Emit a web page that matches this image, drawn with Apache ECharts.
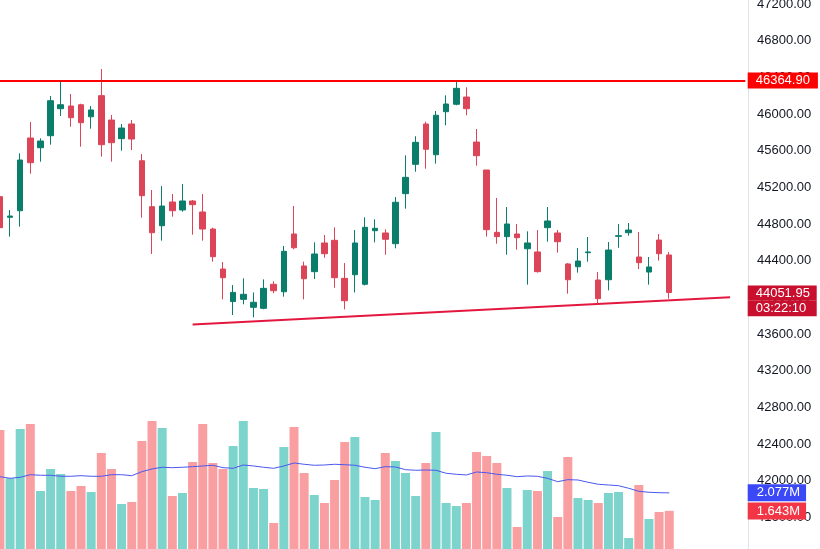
<!DOCTYPE html>
<html>
<head>
<meta charset="utf-8">
<script src="https://cdn.jsdelivr.net/npm/echarts@6/dist/echarts.min.js"></script>
<style>
  html, body { margin: 0; padding: 0; background: #ffffff; }
  #chart { width: 820px; height: 549px; }
</style>
</head>
<body>
<div id="chart"></div>
<script>
// ---- data ----
const opens  = [45098,44873,44945,45738,45632,45763,46058,46087,46101,45970,46200,45934,45731,45891,45490,44989,44781,45040,44953,45051,44931,44745,44309,43954,43978,43891,43880,44142,44061,44691,44342,44280,44593,44622,44207,44247,44142,44727,44702,44585,45131,45451,45891,45556,46025,46106,46185,45694,45389,44709,44662,44691,44530,44495,44760,44702,44364,44334,44487,44189,44192,44666,44705,44440,44276,44625,44462];
const closes = [44760,44887,45498,45469,45705,46145,46101,45960,45905,46044,45665,45687,45847,45727,45109,44705,44996,44945,45051,45011,44745,44443,44214,44054,44033,43946,44098,44072,44502,44541,44203,44473,44476,44214,43963,44593,44764,44753,44633,45037,45309,45691,45615,45986,46109,46280,46058,45545,44738,44662,44800,44651,44593,44280,44833,44607,44192,44396,44495,43985,44516,44672,44734,44378,44331,44476,44051.95];
const highs  = [45124,44953,45571,45913,45735,46196,46352,46218,46112,46087,46491,45989,45891,45934,45564,45171,45214,45127,45236,45062,45127,44760,44385,44134,44207,44054,44196,44175,44560,44996,44389,44600,44680,44764,44374,44734,44873,44851,44742,45094,45549,45757,45916,46033,46204,46349,46291,45836,45389,45084,44985,44800,44720,44734,44985,44734,44374,44538,44658,44276,44604,44800,44811,44713,44440,44691,44495];
const lows   = [44716,44662,44771,45349,45480,45665,45978,45861,45643,45840,45534,45480,45600,45607,44869,44473,44618,44880,44934,44683,44618,44389,43978,43807,43924,43782,43870,44044,44007,44524,43978,44200,44432,44105,43869,44054,44130,44600,44465,44535,44967,45370,45403,45458,45877,46095,45986,45436,44662,44585,44465,44520,44138,44270,44607,44487,44040,44269,44389,43927,44076,44541,44672,44309,44138,44400,43985];
// volume in millions
const volumes = [3.593,2.428,3.617,3.738,2.122,2.653,2.532,2.122,2.243,2.098,3.038,2.653,1.809,1.857,3.328,3.810,3.641,2.001,2.074,2.821,3.738,2.797,2.653,3.207,3.810,2.194,2.170,1.350,3.183,3.665,2.556,2.026,1.833,2.387,3.304,3.424,1.977,1.905,3.038,2.845,2.556,2.001,2.797,3.545,1.833,1.760,1.833,3.062,2.966,2.797,2.194,1.254,2.146,2.122,2.604,1.495,2.942,1.953,1.905,1.833,2.074,2.098,0.989,2.267,1.447,1.616,1.643];
const volumeMA = [2.467,2.428,2.452,2.515,2.501,2.501,2.477,2.477,2.491,2.477,2.477,2.515,2.515,2.491,2.587,2.653,2.694,2.684,2.694,2.708,2.725,2.742,2.684,2.669,2.749,2.725,2.694,2.669,2.725,2.797,2.766,2.742,2.749,2.766,2.756,2.742,2.694,2.660,2.708,2.701,2.636,2.621,2.628,2.621,2.549,2.525,2.508,2.580,2.563,2.525,2.501,2.467,2.484,2.477,2.428,2.346,2.395,2.387,2.332,2.284,2.267,2.250,2.187,2.115,2.091,2.081,2.077];
const resistance = 46364.90;
const lastPrice = 44051.95;
const countdown = '03:22:10';
const trendStart = [19, 43704];
const trendEnd = [72, 44000];
const slotCount = 74; // bars + empty space on the right
const categories = Array.from({ length: slotCount }, (_, i) => String(i));

// ---- styles ----
const UP = '#0a7d6b', DOWN = '#dc4458';
const UP_VOL = '#7dd4cc', DOWN_VOL = '#fa9fa1';
const FONT = "'Liberation Sans', Arial, sans-serif";
const HIDDEN_LINE = { width: 0, color: 'rgba(0,0,0,0)' };

const candleData = opens.map((o, i) => [o, closes[i], lows[i], highs[i]]);
const volData = volumes.map((v, i) => ({
  value: v,
  itemStyle: { color: closes[i] >= opens[i] ? UP_VOL : DOWN_VOL }
}));

const chart = echarts.init(document.getElementById('chart'), null, { renderer: 'canvas' });
const gridL = -5.17, gridR = 820 - 745.3;

chart.setOption({
  animation: false,
  backgroundColor: '#ffffff',
  textStyle: { fontFamily: FONT },
  grid: [
    { left: gridL, right: gridR, top: -32.67, bottom: -5.0, outerBoundsMode: 'none', containLabel: false },
    { left: gridL, right: gridR, top: 413.1, bottom: -30, outerBoundsMode: 'none', containLabel: false }
  ],
  xAxis: [
    { type: 'category', gridIndex: 0, data: categories, show: false, boundaryGap: true },
    { type: 'category', gridIndex: 1, data: categories, show: false, boundaryGap: true }
  ],
  yAxis: [
    {
      type: 'value', gridIndex: 0, position: 'right', offset: 2.7,
      min: 41200, max: 47600, interval: 400,
      axisLine: { show: true, lineStyle: { color: '#e0e3eb', width: 1 } },
      axisTick: { show: false },
      splitLine: { show: false },
      axisLabel: {
        margin: 9, color: '#131722', fontSize: 13, fontFamily: FONT,
        showMinLabel: false, showMaxLabel: false,
        formatter: v => v.toFixed(2)
      }
    },
    { type: 'value', gridIndex: 1, min: 0, max: 4, show: false }
  ],
  series: [
    {
      type: 'bar', name: 'Volume', xAxisIndex: 1, yAxisIndex: 1,
      data: volData, barWidth: 9, z: 1,
      markLine: {
        silent: true, symbol: ['none', 'none'],
        data: [{
          yAxis: volumes[volumes.length - 1],
          lineStyle: HIDDEN_LINE,
          label: {
            show: true, position: 'end', distance: 2.4,
            formatter: volumes[volumes.length - 1].toFixed(3) + 'M',
            backgroundColor: '#f23645', color: '#ffffff',
            fontSize: 13, fontFamily: FONT, lineHeight: 17, padding: [0, 6, 0, 9]
          }
        }]
      }
    },
    {
      type: 'line', name: 'Vol MA', xAxisIndex: 1, yAxisIndex: 1,
      data: volumeMA, symbol: 'none', z: 3,
      lineStyle: { color: '#4a57ef', width: 1 },
      markLine: {
        silent: true, symbol: ['none', 'none'],
        data: [{
          yAxis: volumeMA[volumeMA.length - 1],
          lineStyle: HIDDEN_LINE,
          label: {
            show: true, position: 'end', distance: 2.4,
            formatter: volumeMA[volumeMA.length - 1].toFixed(3) + 'M',
            backgroundColor: '#3b48f5', color: '#ffffff',
            fontSize: 13, fontFamily: FONT, lineHeight: 17, padding: [0, 6, 0, 9]
          }
        }]
      }
    },
    {
      type: 'candlestick', name: 'Price', xAxisIndex: 0, yAxisIndex: 0,
      data: candleData, barWidth: 6, z: 4,
      itemStyle: {
        color: UP, color0: DOWN, borderColor: UP, borderColor0: DOWN, borderWidth: 1
      },
      markLine: {
        silent: true, symbol: ['none', 'none'],
        data: [
          {
            yAxis: resistance,
            lineStyle: { color: '#ff0000', width: 2, type: 'solid' },
            label: {
              show: true, position: 'end', distance: 2.4,
              formatter: resistance.toFixed(2),
              backgroundColor: '#ff0000', color: '#ffffff',
              fontSize: 13, fontFamily: FONT, lineHeight: 16, padding: [0, 8, 0, 8]
            }
          },
          {
            yAxis: lastPrice,
            lineStyle: HIDDEN_LINE,
            label: {
              show: true, position: 'end', distance: 2.4,
              formatter: '{e| }\n{a|' + lastPrice.toFixed(2) + '}\n{a|' + countdown + '}',
              rich: {
                e: { height: 16.5, lineHeight: 16.5, fontSize: 1 },
                a: {
                  backgroundColor: '#c90f2e', color: '#ffffff', fontSize: 13, fontFamily: FONT,
                  width: 53, height: 15.35, lineHeight: 15.35, padding: [0, 8, 0, 8]
                }
              }
            }
          },
          [
            { coord: trendStart, lineStyle: { color: '#e3173f', width: 2, type: 'solid' }, label: { show: false } },
            { coord: trendEnd }
          ]
        ]
      }
    }
  ]
});
</script>
</body>
</html>
